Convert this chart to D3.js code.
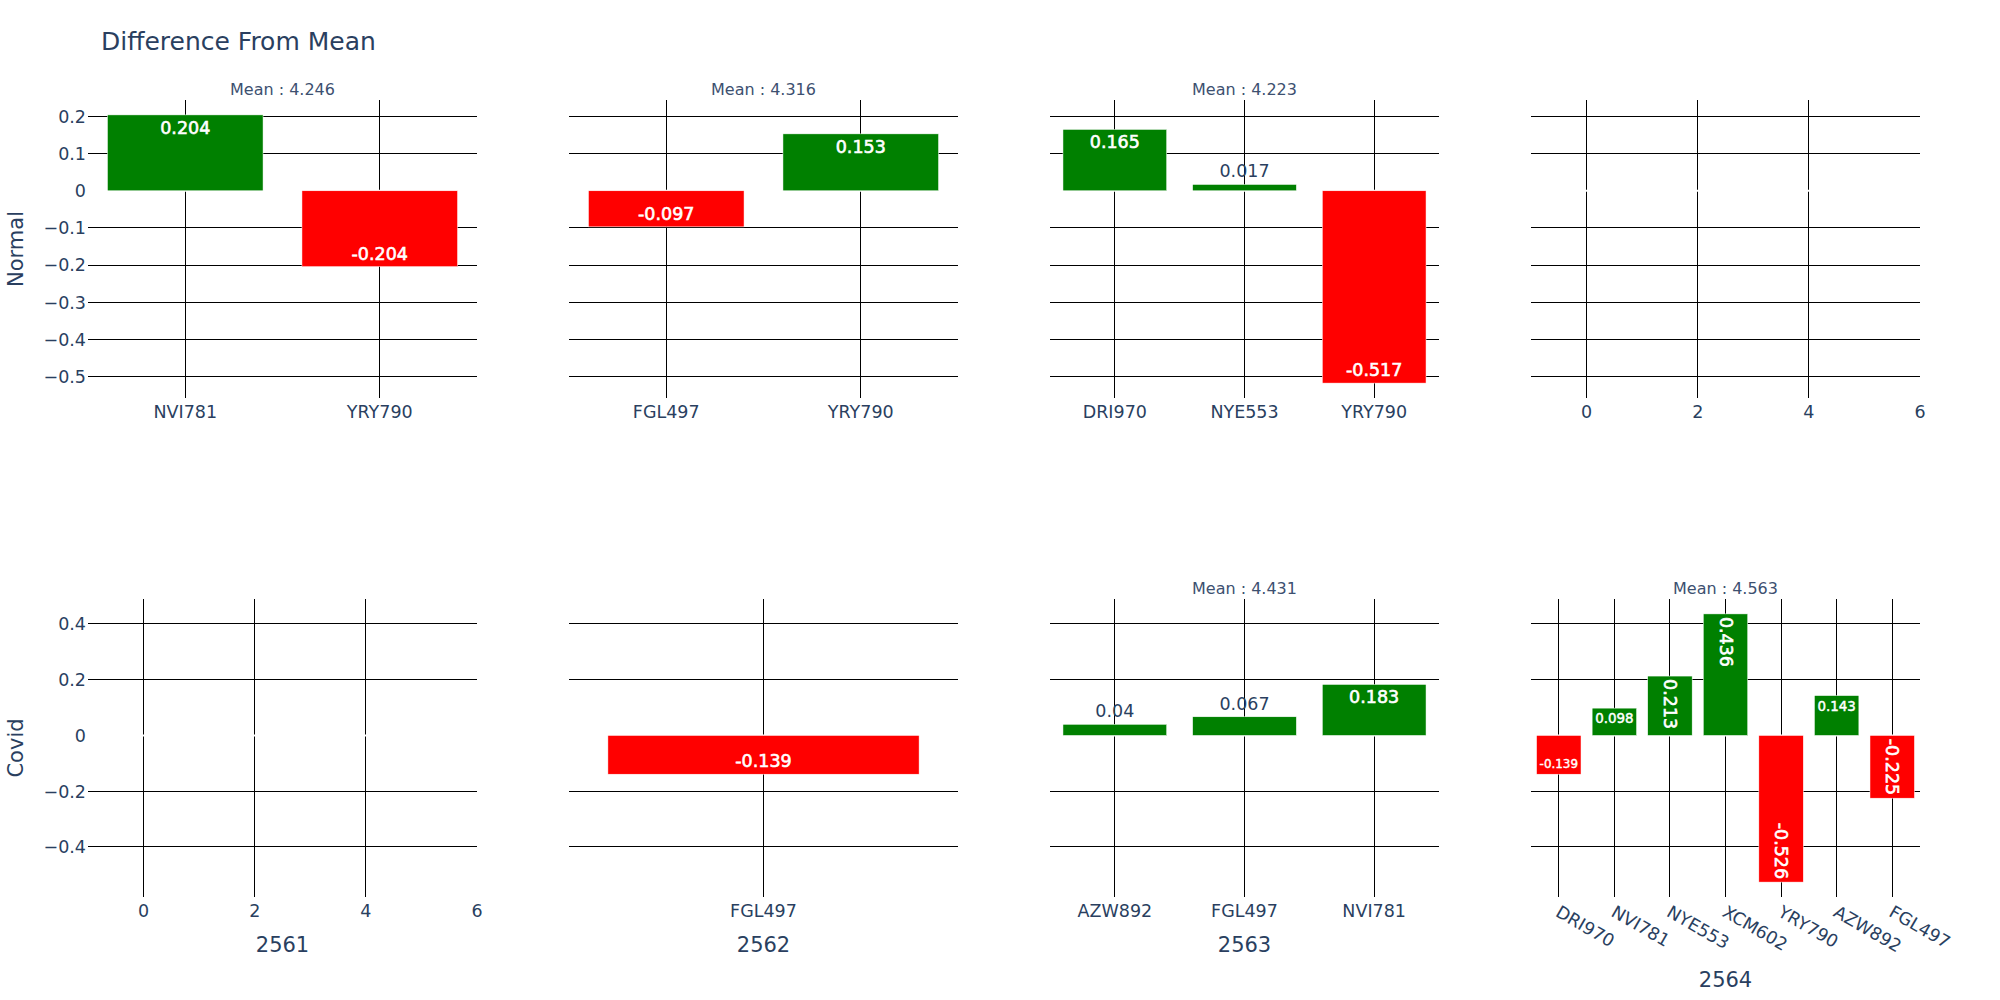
<!DOCTYPE html>
<html>
<head>
<meta charset="utf-8">
<script src="https://cdn.jsdelivr.net/npm/d3@7"></script>
<style>
  body { margin: 0; background: #fff; }
  text { font-family: Verdana, "DejaVu Sans", sans-serif; }
</style>
</head>
<body>
<svg id="chart" width="2000" height="1000"></svg>
<script>
// data
var years = ["2561", "2562", "2563", "2564"];
var row_names = ["Normal", "Covid"];

var normal_cats = [["NVI781", "YRY790"], ["FGL497", "YRY790"], ["DRI970", "NYE553", "YRY790"], []];
var normal_vals = [[0.204, -0.204], [-0.097, 0.153], [0.165, 0.017, -0.517], []];
var normal_means = [4.246, 4.316, 4.223, null];

var covid_cats = [[], ["FGL497"], ["AZW892", "FGL497", "NVI781"],
                  ["DRI970", "NVI781", "NYE553", "XCM602", "YRY790", "AZW892", "FGL497"]];
var covid_vals = [[], [-0.139], [0.04, 0.067, 0.183],
                  [-0.139, 0.098, 0.213, 0.436, -0.526, 0.143, -0.225]];
var covid_means = [null, null, 4.431, 4.563];

var empty_range = [-1, 6];  // default range of an axis with no data

// layout
var col_left = [88, 569, 1050, 1531],
    plot_w = 389,
    row_top = [100, 599],
    plot_h = 298,
    ink = "#2a3f5f",
    tick_size = 17.5;

var svg = d3.select("#chart");

svg.append("text")
    .attr("x", 101)
    .attr("y", 50)
    .attr("font-size", 25)
    .attr("fill", ink)
    .text("Difference From Mean");

function row_scale(vals) {
  var all = [].concat.apply([0], vals);
  var lo = d3.min(all), hi = d3.max(all);
  var pad = (hi - lo) / 18;
  return d3.scaleLinear().domain([lo - pad, hi + pad]).range([plot_h, 0]);
}

// inside if it fits (maybe turned or shrunk), else above/below the bar
function place_bar_text(g, value, x0, bw, y) {
  var y_top = y(Math.max(0, value)), y_bot = y(Math.min(0, value));
  var bh = y_bot - y_top;
  var t = g.append("text")
      .attr("font-size", tick_size)
      .attr("text-anchor", "middle")
      .text(String(value));
  var bb = t.node().getBBox();
  var tw = bb.width, th = bb.height;
  var fits_inside = tw <= bw && th <= bh,
      fits_rot = tw <= bh && th <= bw,
      fits_shrunk = bh >= th * (bw / tw);
  var cx = x0 + bw / 2, cy, rot = 0, s = 1;
  if (fits_inside || fits_rot || fits_shrunk) {
    var pad = (bw > 6 && bh > 6) ? 3 : 0;
    var lx = bw - 2 * pad, ly = bh - 2 * pad;
    if (!(tw <= lx && th <= ly) &&
        (!(tw > ly || th > lx) || ((tw < th) !== (lx < ly)))) rot = 90;
    var rx = rot ? th : tw, ry = rot ? tw : th;
    s = Math.min(1, lx / rx, ly / ry);
    cy = value >= 0 ? y_top + pad + s * ry / 2 : y_bot - pad - s * ry / 2;
    t.attr("fill", "white")
     .attr("stroke", "white")
     .attr("stroke-width", 0.6);
  } else {
    s = Math.min(1, bw / tw);
    cy = value >= 0 ? y_top - 3 - s * th / 2 : y_bot + 3 + s * th / 2;
    t.attr("fill", ink);
  }
  var ox = bb.x + bb.width / 2, oy = bb.y + bb.height / 2;
  t.attr("transform", "translate(" + cx + "," + cy + ") rotate(" + rot + ") scale(" + s +
         ") translate(" + (-ox) + "," + (-oy) + ")");
}

function draw_panel(r, c, cats, vals, mean, y) {
  var g = svg.append("g")
      .attr("transform", "translate(" + col_left[c] + "," + row_top[r] + ")");

  var x, xpos, xticks;
  if (cats.length) {
    x = d3.scaleBand().domain(cats).range([0, plot_w]).paddingInner(0.2).paddingOuter(0.1);
    xpos = function(d) { return x(d) + x.bandwidth() / 2; };
    xticks = cats;
  } else {
    x = d3.scaleLinear().domain(empty_range).range([0, plot_w]);
    xpos = x;
    xticks = x.ticks(4);
  }
  var yticks = y.ticks(7);

  // grid
  g.append("g").selectAll("line")
      .data(xticks.filter(function(d) { return xpos(d) > 1 && xpos(d) < plot_w - 1; }))
    .enter().append("line")
      .attr("x1", xpos).attr("x2", xpos)
      .attr("y1", 0).attr("y2", plot_h)
      .attr("stroke", "#000")
      .attr("shape-rendering", "crispEdges");
  g.append("g").selectAll("line")
      .data(yticks)
    .enter().append("line")
      .attr("x1", 0).attr("x2", plot_w)
      .attr("y1", y).attr("y2", y)
      .attr("stroke", "#000")
      .attr("shape-rendering", "crispEdges");

  // zero line
  g.append("line")
      .attr("x1", 0).attr("x2", plot_w)
      .attr("y1", y(0)).attr("y2", y(0))
      .attr("stroke", "#fff")
      .attr("stroke-width", 2);

  // bars
  var bars = cats.map(function(cat, i) { return {cat: cat, value: vals[i]}; });
  g.selectAll(".bar")
      .data(bars)
    .enter().append("rect")
      .attr("class", "bar")
      .attr("x", function(d) { return x(d.cat); })
      .attr("width", x.bandwidth ? x.bandwidth() : 0)
      .attr("y", function(d) { return y(Math.max(0, d.value)); })
      .attr("height", function(d) { return Math.abs(y(d.value) - y(0)); })
      .attr("fill", function(d) { return d.value >= 0 ? "green" : "red"; })
      .attr("stroke", "#fff")
      .attr("stroke-width", 0.5);

  var tg = g.append("g");
  bars.forEach(function(d) {
    place_bar_text(tg, d.value, x(d.cat), x.bandwidth(), y);
  });

  // y tick labels on the first column only
  if (c === 0) {
    g.append("g").selectAll("text")
        .data(yticks)
      .enter().append("text")
        .attr("x", -2)
        .attr("y", y)
        .attr("dy", "0.36em")
        .attr("text-anchor", "end")
        .attr("font-size", tick_size)
        .attr("fill", ink)
        .text(d3.format("~g"));
  }

  // x tick labels, angled when they do not fit the slot
  var fmt = cats.length ? function(d) { return d; } : d3.format("~g");
  var xg = g.append("g");
  var labels = xg.selectAll("text")
      .data(xticks)
    .enter().append("text")
      .attr("x", xpos)
      .attr("y", plot_h + 19.7)
      .attr("text-anchor", "middle")
      .attr("font-size", tick_size)
      .attr("fill", ink)
      .text(fmt);
  var widest = d3.max(labels.nodes(), function(n) { return n.getComputedTextLength(); }) || 0;
  if (cats.length && widest > x.step()) {
    labels
        .attr("text-anchor", "start")
        .attr("transform", function(d) {
          return "rotate(30," + xpos(d) + "," + (plot_h + 19.7 - tick_size / 2) + ")";
        });
  }

  if (mean !== null) {
    g.append("text")
        .attr("x", plot_w / 2)
        .attr("y", -5)
        .attr("text-anchor", "middle")
        .attr("font-size", 16)
        .attr("fill", "#3d5070")
        .text("Mean : " + mean);
  }

  if (r === 1) {
    var lab_bottom = plot_h + 24;
    xg.selectAll("text").each(function() {
      var b = this.getBoundingClientRect();
      lab_bottom = Math.max(lab_bottom, b.bottom - row_top[r]);
    });
    g.append("text")
        .attr("x", plot_w / 2)
        .attr("y", lab_bottom + 31)
        .attr("text-anchor", "middle")
        .attr("font-size", 21)
        .attr("fill", ink)
        .text(years[c]);
  }

  if (c === 0) {
    svg.append("text")
        .attr("transform", "translate(23," + (row_top[r] + plot_h / 2) + ") rotate(-90)")
        .attr("text-anchor", "middle")
        .attr("font-size", 21)
        .attr("fill", ink)
        .text(row_names[r]);
  }
}

var y_normal = row_scale(normal_vals),
    y_covid = row_scale(covid_vals);

for (var c = 0; c < years.length; c++) {
  draw_panel(0, c, normal_cats[c], normal_vals[c], normal_means[c], y_normal);
  draw_panel(1, c, covid_cats[c], covid_vals[c], covid_means[c], y_covid);
}
</script>
</body>
</html>
